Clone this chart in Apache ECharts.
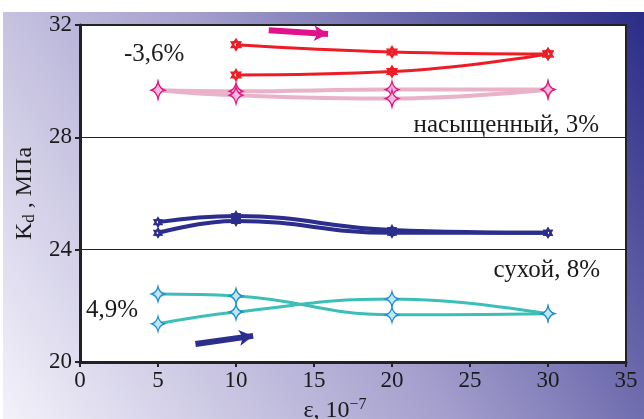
<!DOCTYPE html>
<html>
<head>
<meta charset="utf-8">
<script src="https://cdn.jsdelivr.net/npm/echarts@6/dist/echarts.min.js"></script>
<style>html,body{margin:0;padding:0;background:#fff}#c{width:644px;height:419px}</style>
</head>
<body>
<div id="c"></div>
<script>
// ---- data ----
const xTicks = [0, 5, 10, 15, 20, 25, 30, 35];
const yTicks = [20, 24, 28, 32];
const redUpper  = [[10, 31.30], [20, 31.04], [30, 30.97]];
const redLower  = [[10, 30.22], [20, 30.34], [30, 30.97]];
const pinkUpper = [[5, 29.68], [10, 29.64], [20, 29.70], [30, 29.70]];
const pinkLower = [[5, 29.68], [10, 29.50], [20, 29.38], [30, 29.70]];
const navyUpper = [[5, 24.98], [10, 25.20], [20, 24.70], [30, 24.60]];
const navyLower = [[5, 24.60], [10, 25.02], [20, 24.60], [30, 24.60]];
const cyanA     = [[5, 22.42], [10, 22.35], [20, 21.68], [30, 21.72]];
const cyanB     = [[5, 21.36], [10, 21.78], [20, 22.24], [30, 21.72]];
const magentaArrow = [[12.1, 31.81], [15.9, 31.68]];
const navyArrow    = [[7.4, 20.64], [11.1, 20.93]];
const labels = {
  redPct: '-3,6%', wet: 'насыщенный, 3%', dry: 'сухой, 8%', cyanPct: '4,9%'
};

// ---- symbol shapes ----
function hexagramPath() {
  let p = '';
  for (let i = 0; i < 12; i++) {
    const a = (-90 + i * 30) * Math.PI / 180;
    const r = i % 2 === 0 ? 10 : 5.9;
    p += (i === 0 ? 'M' : 'L') + (r * Math.cos(a)).toFixed(2) + ' ' + (r * Math.sin(a)).toFixed(2) + ' ';
  }
  p += 'Z ';
  for (let i = 0; i < 6; i++) {
    const a = (-90 - i * 60) * Math.PI / 180;
    const r = 2.4;
    p += (i === 0 ? 'M' : 'L') + (r * Math.cos(a)).toFixed(2) + ' ' + (r * Math.sin(a)).toFixed(2) + ' ';
  }
  return 'path://' + p + 'Z';
}
const HEX = hexagramPath();
const STAR4 = 'path://M0 -10 Q2 -2 10 0 Q2 2 0 10 Q-2 2 -10 0 Q-2 -2 0 -10 Z';

function curve(data, color, width, symbol, size, fill, border) {
  return {
    type: 'line', data: data, smooth: 0.45,
    lineStyle: { color: color, width: width },
    symbol: symbol, symbolSize: size, symbolKeepAspect: true, showSymbol: true,
    itemStyle: { color: fill, borderColor: border, borderWidth: border ? 1.3 : 0 },
    z: 3
  };
}
function arrow(pts, color) {
  return {
    type: 'line', data: [], silent: true,
    markLine: {
      silent: true, symbol: ['none', 'arrow'], symbolSize: [12, 14],
      label: { show: false },
      lineStyle: { color: color, width: 6, type: 'solid' },
      data: [[{ coord: pts[0] }, { coord: pts[1] }]]
    }
  };
}

const serif = 'Liberation Serif';
const ink = '#1a1a1a';
const chart = echarts.init(document.getElementById('c'));
chart.setOption({
  animation: false,
  textStyle: { fontFamily: serif },
  graphic: [
    {
      type: 'rect', z: -10, silent: true,
      shape: { x: 3, y: 12, width: 641, height: 407 },
      style: {
        fill: new echarts.graphic.LinearGradient(0, 1, 1, 0, [
          { offset: 0, color: '#f3f2fa' },
          { offset: 0.5, color: '#a49ecd' },
          { offset: 1, color: '#2a2c86' }
        ])
      }
    },
    { type: 'text', left: 124, top: 42, z: 10, style: { text: labels.redPct, font: '25px ' + serif, fill: ink } },
    { type: 'text', right: 45, top: 113, z: 10, style: { text: labels.wet, font: '25px ' + serif, fill: ink } },
    { type: 'text', right: 44, top: 258, z: 10, style: { text: labels.dry, font: '25px ' + serif, fill: ink } },
    { type: 'text', left: 86, top: 298, z: 10, style: { text: labels.cyanPct, font: '25px ' + serif, fill: ink } }
  ],
  grid: {
    left: 80, right: 18, top: 25, bottom: 57,
    outerBoundsMode: 'none', containLabel: false,
    show: true, backgroundColor: '#ffffff', borderColor: '#222', borderWidth: 2
  },
  xAxis: {
    type: 'value', min: xTicks[0], max: xTicks[xTicks.length - 1], interval: 5,
    name: 'ε, 10{sup|−7}', nameLocation: 'middle', nameGap: 26,
    nameTextStyle: {
      fontFamily: serif, fontSize: 24, color: ink, padding: [0, 36, 0, 0],
      rich: { sup: { fontFamily: serif, fontSize: 16, color: ink, padding: [0, 0, 12, 0] } }
    },
    axisLine: { lineStyle: { color: '#222', width: 3 } },
    axisTick: { show: true, length: 5, inside: false, lineStyle: { color: '#222', width: 2 } },
    axisLabel: { fontFamily: serif, fontSize: 23, color: ink, margin: 7 },
    splitLine: { show: false }
  },
  yAxis: {
    type: 'value', min: yTicks[0], max: yTicks[yTicks.length - 1], interval: 4,
    name: '{k|K}{d|d}{k| , МПа}', nameLocation: 'middle', nameGap: 40,
    nameTextStyle: {
      rich: {
        k: { fontFamily: serif, fontSize: 24, color: ink },
        d: { fontFamily: serif, fontSize: 17, color: ink, padding: [10, 0, 0, 0] }
      }
    },
    axisLine: { lineStyle: { color: '#222', width: 3 } },
    axisTick: { show: true, length: 5, inside: false, lineStyle: { color: '#222', width: 2 } },
    axisLabel: { fontFamily: serif, fontSize: 23, color: ink, margin: 8 },
    splitLine: { show: true, lineStyle: { color: '#222', width: 1 } }
  },
  series: [
    curve(pinkUpper, '#e9b2c9', 4, STAR4, [13, 17], '#f7b9dc', '#e0127f'),
    curve(pinkLower, '#e9b2c9', 4, STAR4, [13, 17], '#f7b9dc', '#e0127f'),
    curve(redUpper, '#ee1c25', 3, HEX, 14, '#ee1c25', null),
    curve(redLower, '#ee1c25', 3, HEX, 14, '#ee1c25', null),
    curve(navyUpper, '#2b2e8c', 4, HEX, 12, '#2b2e8c', null),
    curve(navyLower, '#2b2e8c', 4, HEX, 12, '#2b2e8c', null),
    curve(cyanA, '#3bbfb6', 3, STAR4, [13, 15], '#bfe7fb', '#1b8ccc'),
    curve(cyanB, '#3bbfb6', 3, STAR4, [13, 15], '#bfe7fb', '#1b8ccc'),
    arrow(magentaArrow, '#e2128a'),
    arrow(navyArrow, '#2b2e8c')
  ]
});
</script>
</body>
</html>
